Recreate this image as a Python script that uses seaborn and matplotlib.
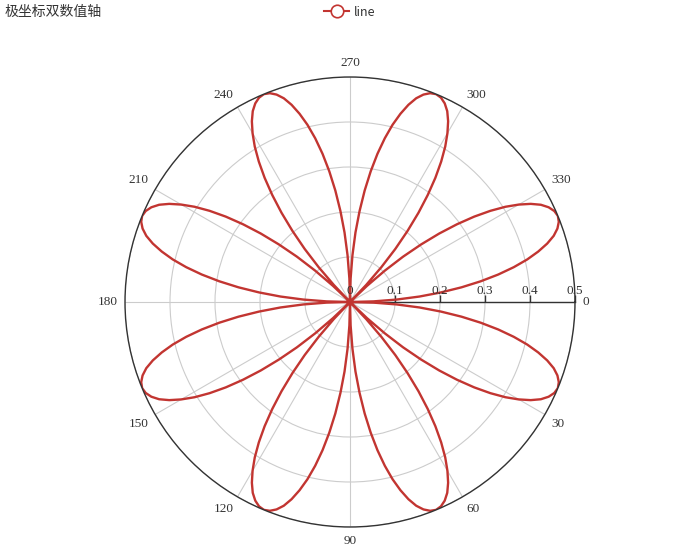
import numpy as np
import matplotlib
matplotlib.use("Agg")
import matplotlib.pyplot as plt
import seaborn as sns
from matplotlib.lines import Line2D

title = "极坐标双数值轴"
series_name = "line"
angle_ticks = [0, 30, 60, 90, 120, 150, 180, 210, 240, 270, 300, 330]
radius_ticks = [0, 0.1, 0.2, 0.3, 0.4, 0.5]
radius_labels = ["0", "0.1", "0.2", "0.3", "0.4", "0.5"]

# angle in degrees, step 1.5
angles_deg = np.arange(0, 360.0001, 1.5)
# radius values (|r|)
radius = [
    0.000, 0.052, 0.104, 0.155, 0.203, 0.250, 0.294, 0.335, 0.372, 0.405, 0.433, 0.457, 0.476, 0.489, 0.497,
    0.500, 0.497, 0.489, 0.476, 0.457, 0.433, 0.405, 0.372, 0.335, 0.294, 0.250, 0.203, 0.155, 0.104, 0.052,
    0.000, 0.052, 0.104, 0.155, 0.203, 0.250, 0.294, 0.335, 0.372, 0.405, 0.433, 0.457, 0.476, 0.489, 0.497,
    0.500, 0.497, 0.489, 0.476, 0.457, 0.433, 0.405, 0.372, 0.335, 0.294, 0.250, 0.203, 0.155, 0.104, 0.052,
    0.000, 0.052, 0.104, 0.155, 0.203, 0.250, 0.294, 0.335, 0.372, 0.405, 0.433, 0.457, 0.476, 0.489, 0.497,
    0.500, 0.497, 0.489, 0.476, 0.457, 0.433, 0.405, 0.372, 0.335, 0.294, 0.250, 0.203, 0.155, 0.104, 0.052,
    0.000, 0.052, 0.104, 0.155, 0.203, 0.250, 0.294, 0.335, 0.372, 0.405, 0.433, 0.457, 0.476, 0.489, 0.497,
    0.500, 0.497, 0.489, 0.476, 0.457, 0.433, 0.405, 0.372, 0.335, 0.294, 0.250, 0.203, 0.155, 0.104, 0.052,
    0.000, 0.052, 0.104, 0.155, 0.203, 0.250, 0.294, 0.335, 0.372, 0.405, 0.433, 0.457, 0.476, 0.489, 0.497,
    0.500, 0.497, 0.489, 0.476, 0.457, 0.433, 0.405, 0.372, 0.335, 0.294, 0.250, 0.203, 0.155, 0.104, 0.052,
    0.000, 0.052, 0.104, 0.155, 0.203, 0.250, 0.294, 0.335, 0.372, 0.405, 0.433, 0.457, 0.476, 0.489, 0.497,
    0.500, 0.497, 0.489, 0.476, 0.457, 0.433, 0.405, 0.372, 0.335, 0.294, 0.250, 0.203, 0.155, 0.104, 0.052,
    0.000, 0.052, 0.104, 0.155, 0.203, 0.250, 0.294, 0.335, 0.372, 0.405, 0.433, 0.457, 0.476, 0.489, 0.497,
    0.500, 0.497, 0.489, 0.476, 0.457, 0.433, 0.405, 0.372, 0.335, 0.294, 0.250, 0.203, 0.155, 0.104, 0.052,
    0.000, 0.052, 0.104, 0.155, 0.203, 0.250, 0.294, 0.335, 0.372, 0.405, 0.433, 0.457, 0.476, 0.489, 0.497,
    0.500, 0.497, 0.489, 0.476, 0.457, 0.433, 0.405, 0.372, 0.335, 0.294, 0.250, 0.203, 0.155, 0.104, 0.052,
    0.000,
]

LINE_COLOR = "#c23531"
AXIS_COLOR = "#333333"
GRID_COLOR = "#cccccc"

fig = plt.figure(figsize=(7, 5.6), dpi=100)
fig.patch.set_facecolor("white")
ax = fig.add_axes([125 / 700, 33 / 560, 450 / 700, 450 / 560], projection="polar")
ax.set_theta_zero_location("E")
ax.set_theta_direction(-1)
ax.set_ylim(0, 0.5)
ax.set_facecolor("white")

theta = np.deg2rad(angles_deg)
sns.lineplot(x=theta, y=radius, ax=ax, sort=False, color=LINE_COLOR, linewidth=1.7, legend=False)
ax.set_xlabel("")
ax.set_ylabel("")

# grids
ax.set_xticks(np.deg2rad(angle_ticks))
ax.set_xticklabels([])
ax.set_yticks(radius_ticks)
ax.set_yticklabels([])
ax.grid(True, color=GRID_COLOR, linewidth=0.8)
ax.tick_params(axis="x", direction="out", length=5, width=1, color=AXIS_COLOR)
ax.tick_params(axis="y", length=0)
ax.spines["polar"].set_color(AXIS_COLOR)
ax.spines["polar"].set_linewidth(1)
ax.set_axisbelow(True)

# angle labels placed outside the circle (clockwise, 0 at right)
off_pt = 5.4
for a in angle_ticks:
    rad = np.deg2rad(a)
    dx, dy = np.cos(rad), -np.sin(rad)  # screen direction
    ha = "center" if abs(dx) < 0.01 else ("left" if dx > 0 else "right")
    va = "center" if abs(dy) < 0.01 else ("bottom" if dy > 0 else "top")
    ax.annotate(str(a), xy=(rad, 0.5), xytext=(dx * off_pt, dy * off_pt), textcoords="offset points",
                ha=ha, va=va, family="Liberation Serif", fontsize=9.5, color=AXIS_COLOR,
                annotation_clip=False)

# radius axis line along 0 deg with ticks and labels
ax.plot([0, 0], [0, 0.5], color=AXIS_COLOR, linewidth=1, zorder=1.5, clip_on=False)
ax.plot([0] * len(radius_ticks), radius_ticks, linestyle="none", marker=2, markersize=5,
        color=AXIS_COLOR, markeredgewidth=1, clip_on=False, zorder=1.5)
for r, lab in zip(radius_ticks, radius_labels):
    ax.annotate(lab, xy=(0, r), xytext=(0, 3.5), textcoords="offset points", ha="center", va="bottom",
                family="Liberation Serif", fontsize=9.5, color=AXIS_COLOR, annotation_clip=False)

# title
fig.text(5 / 700, 1 - 12 / 560, title, family=["Noto Sans CJK SC", "DejaVu Sans"], fontsize=10,
         color=AXIS_COLOR, ha="left", va="center")

# legend
handle = Line2D([0], [0], color=LINE_COLOR, linewidth=1.5, marker="o", markersize=9,
                markerfacecolor="white", markeredgecolor=LINE_COLOR, markeredgewidth=1.2)
fig.legend([handle], [series_name], loc="center", bbox_to_anchor=(350 / 700, 1 - 12 / 560),
           frameon=False, handlelength=2.0, handletextpad=0.4,
           prop={"family": ["Noto Sans CJK SC", "DejaVu Sans"], "size": 9}, labelcolor=AXIS_COLOR)

fig.savefig("out.png", dpi=100, facecolor="white")
